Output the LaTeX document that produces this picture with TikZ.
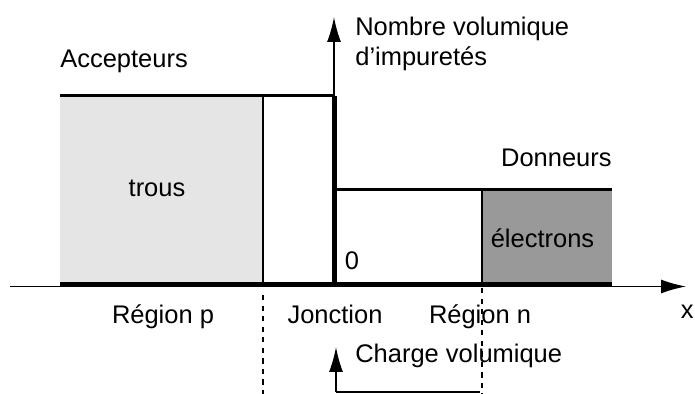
\documentclass[tikz,border=0pt]{standalone}
\usepackage{fontspec}
\setmainfont{Liberation Sans}
\usetikzlibrary{arrows.meta}
\tikzset{
	lbl/.style={inner sep=0pt, anchor=base, font=\fontsize{14.5}{17}\selectfont},
	axisarrow/.style={-{Latex[length=0.5cm,width=0.28cm]}, line width=0.3mm},
	levelline/.style={line width=0.6mm},
	sepline/.style={line width=0.3mm}
}

\begin{document}
\begin{tikzpicture}
			%%%%% START %%%%%
			\useasboundingbox (0, 0) rectangle (13.9, 7.88);
			
			\fill[black!10] (1.2, 2.2) rectangle (5.26, 5.96);
			\fill[black!40] (9.64, 2.2) rectangle (12.24, 4.08);
			
			\draw[axisarrow] (0.2, 2.15) -- (13.72, 2.15);
			\draw[axisarrow] (6.68, 5.96) -- (6.68, 7.54);
			\draw[axisarrow] (6.72, 0.04) -- (6.72, 0.94);
			\draw[sepline] (6.72, 0.04) -- (9.6, 0.04);
			
			\draw[levelline] (1.2, 5.96) -- (6.68, 5.96);
			\draw[line width=1mm] (6.68, 5.96) -- (6.68, 2.2);
			\draw[levelline] (6.68, 4.08) -- (12.24, 4.08);
			\draw[line width=0.8mm] (1.2, 2.2) -- (12.24, 2.2);
			
			\draw[sepline] (5.26, 5.96) -- (5.26, 2.2);
			\draw[sepline] (9.64, 4.08) -- (9.64, 2.2);
			\draw[sepline, dashed] (5.26, 1.98) -- (5.26, 0);
			\draw[sepline, dashed] (9.64, 2.12) -- (9.64, 0);
			
			\node[lbl, anchor=base west] (accepteurs) at (1.2, 6.52) {Accepteurs};
			\node[lbl] (trous) at (3.14, 3.94) {trous};
			\node[lbl, anchor=north west, align=left] (nombre) at (7.1, 7.54) {Nombre volumique\\d'impuretés};
			\node[lbl, anchor=base east] (donneurs) at (12.24, 4.54) {Donneurs};
			\node[lbl] (electrons) at (10.85, 2.92) {électrons};
			\node[lbl] (zero) at (7.04, 2.48) {0};
			\node[lbl] (regionp) at (3.26, 1.4) {Région p};
			\node[lbl] (jonction) at (6.7, 1.4) {Jonction};
			\node[lbl] (regionn) at (9.6, 1.4) {Région n};
			\node[lbl, anchor=base west] (charge) at (7.1, 0.62) {Charge volumique};
			\node[lbl, anchor=base east] (xlabel) at (13.88, 1.5) {x};
			
			%%%%% END %%%%%
\end{tikzpicture}
\end{document}
